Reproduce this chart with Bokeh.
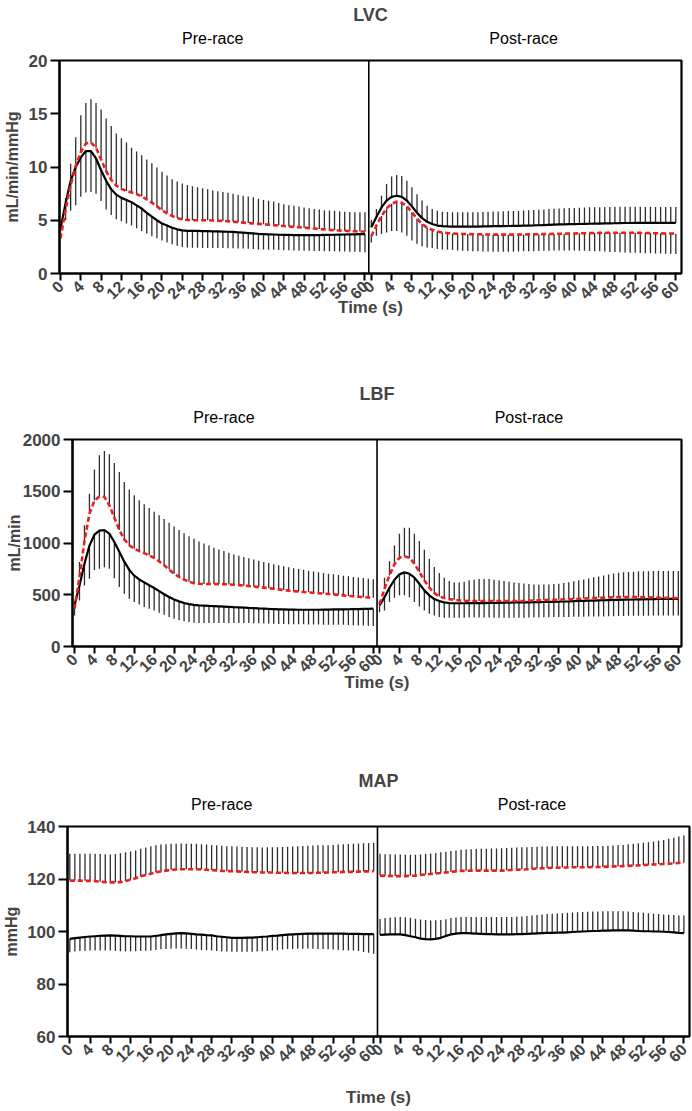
import numpy as np
from math import pi
from bokeh.plotting import figure
from bokeh.models import Range1d, FixedTicker, Span, LinearAxis
from bokeh.embed import file_html
from bokeh.resources import INLINE

# ---------------- data ----------------
time_s = list(range(61))
tick_values = list(range(0, 61, 4))
tick_labels = [str(v) for v in tick_values]
panel_titles = ["LVC", "LBF", "MAP"]
phase_names = ["Pre-race", "Post-race"]
y_labels = ["mL/min/mmHg", "mL/min", "mmHg"]
x_label = "Time (s)"

# LVC pre-race
lvc_pre_black_mean = [4.2, 6.6, 8.7, 10.0, 10.9, 11.5, 11.5, 10.8, 9.7, 8.7, 7.9, 7.4, 7.1, 6.9, 6.7, 6.4, 6.1, 5.7, 5.35, 5.0,
                      4.7, 4.5, 4.3, 4.15, 4.05, 4.0, 4.0, 4.0, 3.98, 3.97, 3.96, 3.95, 3.94, 3.92, 3.9, 3.87, 3.84, 3.8, 3.76, 3.72,
                      3.7, 3.68, 3.66, 3.64, 3.63, 3.62, 3.6, 3.6, 3.6, 3.6, 3.6, 3.61, 3.62, 3.63, 3.64, 3.65, 3.66, 3.67, 3.68, 3.69, 3.7]
lvc_pre_black_sd = [0.9, 1.6, 2.8, 3.6, 3.7, 3.9, 3.85, 3.3, 2.9, 2.7, 2.4, 2.3, 2.2, 2.2, 2.2, 2.15, 2.1, 1.95, 1.85, 1.7,
                    1.6, 1.6, 1.55, 1.55, 1.55, 1.55, 1.58, 1.58, 1.58, 1.57, 1.56, 1.55, 1.55, 1.54, 1.53, 1.52, 1.5, 1.48, 1.47, 1.46,
                    1.45, 1.45, 1.44, 1.44, 1.44, 1.44, 1.44, 1.45, 1.46, 1.47, 1.48, 1.5, 1.52, 1.54, 1.56, 1.58, 1.6, 1.62, 1.64, 1.66, 1.7]
lvc_pre_red_mean = [3.3, 6.0, 8.3, 10.1, 11.4, 12.2, 12.3, 11.8, 10.7, 9.6, 8.8, 8.25, 7.95, 7.75, 7.6, 7.45, 7.25, 6.95, 6.65, 6.3,
                    5.95, 5.65, 5.4, 5.2, 5.08, 5.03, 5.0, 5.0, 5.0, 5.0, 4.98, 4.96, 4.94, 4.9, 4.86, 4.82, 4.78, 4.74, 4.7, 4.66,
                    4.62, 4.58, 4.54, 4.5, 4.46, 4.42, 4.38, 4.34, 4.3, 4.26, 4.22, 4.18, 4.14, 4.1, 4.07, 4.04, 4.01, 3.98, 3.96, 3.94, 3.92]
lvc_pre_red_sd = [0.5, 1.1, 2.0, 2.7, 3.45, 3.8, 4.05, 4.2, 4.7, 4.95, 5.05, 4.9, 4.75, 4.55, 4.2, 4.0, 3.85, 3.75, 3.7, 3.65,
                  3.6, 3.55, 3.45, 3.45, 3.37, 3.29, 3.2, 3.1, 3.0, 2.9, 2.82, 2.76, 2.71, 2.68, 2.64, 2.58, 2.52, 2.48, 2.45, 2.36,
                  2.28, 2.24, 2.21, 2.12, 2.04, 2.0, 1.97, 1.94, 1.9, 1.86, 1.83, 1.82, 1.81, 1.82, 1.83, 1.81, 1.79, 1.8, 1.79, 1.81, 1.83]
# LVC post-race
lvc_post_black_mean = [4.35, 5.3, 6.2, 6.85, 7.2, 7.3, 7.2, 6.85, 6.3, 5.7, 5.2, 4.85, 4.65, 4.5, 4.45, 4.42, 4.4, 4.4, 4.4, 4.4,
                       4.4, 4.41, 4.42, 4.43, 4.44, 4.45, 4.45, 4.46, 4.47, 4.48, 4.49, 4.5, 4.51, 4.53, 4.55, 4.57, 4.59, 4.61, 4.62, 4.63,
                       4.64, 4.65, 4.66, 4.67, 4.68, 4.69, 4.7, 4.71, 4.72, 4.73, 4.74, 4.74, 4.75, 4.75, 4.75, 4.76, 4.76, 4.76, 4.76, 4.76, 4.76]
lvc_post_black_sd = [0.7, 0.75, 1.1, 1.55, 1.9, 1.95, 1.95, 1.85, 1.8, 1.75, 1.65, 1.5, 1.4, 1.4, 1.35, 1.35, 1.35, 1.35, 1.35, 1.35,
                     1.35, 1.35, 1.36, 1.36, 1.37, 1.38, 1.39, 1.4, 1.41, 1.42, 1.43, 1.44, 1.45, 1.46, 1.47, 1.48, 1.49, 1.5, 1.5, 1.51,
                     1.52, 1.53, 1.53, 1.54, 1.54, 1.54, 1.54, 1.54, 1.54, 1.54, 1.53, 1.52, 1.51, 1.51, 1.5, 1.5, 1.49, 1.49, 1.49, 1.49, 1.49]
lvc_post_red_mean = [3.5, 4.5, 5.4, 6.1, 6.55, 6.75, 6.65, 6.3, 5.75, 5.15, 4.65, 4.3, 4.1, 3.95, 3.85, 3.8, 3.76, 3.73, 3.71, 3.7,
                     3.69, 3.68, 3.67, 3.66, 3.65, 3.65, 3.65, 3.65, 3.65, 3.65, 3.66, 3.67, 3.68, 3.69, 3.7, 3.71, 3.72, 3.73, 3.74, 3.75,
                     3.76, 3.77, 3.78, 3.79, 3.8, 3.81, 3.82, 3.82, 3.83, 3.83, 3.83, 3.82, 3.82, 3.81, 3.8, 3.79, 3.78, 3.77, 3.76, 3.75, 3.74]
lvc_post_red_sd = [0.6, 0.95, 1.7, 2.25, 2.55, 2.75, 2.8, 2.75, 2.65, 2.35, 2.1, 1.85, 1.7, 1.65, 1.6, 1.58, 1.56, 1.56, 1.57, 1.58,
                   1.59, 1.6, 1.6, 1.6, 1.6, 1.6, 1.6, 1.6, 1.6, 1.59, 1.58, 1.57, 1.58, 1.58, 1.57, 1.57, 1.57, 1.58, 1.59, 1.6,
                   1.61, 1.63, 1.65, 1.67, 1.7, 1.73, 1.76, 1.79, 1.82, 1.84, 1.85, 1.86, 1.87, 1.88, 1.89, 1.89, 1.9, 1.9, 1.9, 1.9, 1.9]

# LBF pre-race
lbf_pre_black_mean = [397, 590, 800, 975, 1080, 1120, 1125, 1090, 1010, 915, 820, 740, 685, 648, 620, 592, 565, 535, 505, 478,
                      455, 436, 420, 410, 403, 398, 395, 392, 390, 388, 386, 383, 380, 378, 376, 373, 371, 368, 366, 363,
                      361, 359, 358, 357, 356, 355, 355, 355, 355, 355, 356, 357, 358, 358, 359, 360, 361, 362, 363, 364, 365]
lbf_pre_black_sd = [97, 145, 210, 320, 340, 368, 360, 338, 350, 340, 310, 278, 255, 243, 238, 227, 217, 209, 199, 193,
                    187, 183, 177, 174, 173, 171, 169, 166, 164, 162, 160, 157, 154, 152, 150, 147, 146, 144, 143, 141,
                    142, 141, 141, 141, 141, 141, 141, 142, 142, 143, 145, 146, 147, 148, 150, 152, 155, 158, 161, 164, 168]
lbf_pre_red_mean = [365, 670, 1020, 1280, 1410, 1450, 1445, 1365, 1245, 1125, 1035, 978, 945, 922, 902, 880, 855, 823, 785, 743,
                    704, 672, 646, 625, 612, 606, 604, 604, 604, 603, 602, 600, 597, 593, 588, 584, 580, 574, 569, 563,
                    558, 552, 546, 540, 535, 531, 527, 523, 519, 515, 511, 507, 503, 499, 494, 489, 485, 481, 477, 474, 471]
lbf_pre_red_sd = [35, 146, 151, 197, 300, 398, 445, 493, 529, 562, 555, 538, 516, 491, 472, 459, 448, 445, 447, 452,
                  456, 453, 449, 440, 428, 409, 391, 371, 351, 335, 320, 305, 293, 284, 276, 268, 260, 254, 248, 243,
                  237, 233, 229, 226, 222, 218, 214, 210, 206, 203, 200, 197, 194, 191, 190, 189, 187, 185, 184, 181, 179]
# LBF post-race
lbf_post_black_mean = [397, 477, 568, 645, 697, 716, 703, 665, 606, 542, 494, 458, 439, 426, 420, 418, 418, 418, 419, 419,
                       420, 420, 421, 421, 422, 423, 424, 425, 426, 426, 427, 428, 429, 430, 431, 432, 433, 435, 436, 438,
                       440, 441, 443, 444, 446, 447, 449, 450, 451, 452, 453, 454, 455, 456, 457, 458, 459, 460, 460, 461, 461]
lbf_post_black_sd = [65, 129, 139, 174, 203, 222, 226, 236, 219, 194, 178, 158, 155, 149, 143, 141, 140, 140, 140, 140,
                     140, 141, 142, 143, 144, 145, 146, 147, 148, 148, 148, 148, 148, 148, 148, 148, 148, 149, 150, 151,
                     152, 153, 154, 155, 156, 156, 157, 157, 157, 157, 157, 157, 158, 158, 159, 159, 160, 160, 160, 161, 161]
lbf_post_red_mean = [410, 558, 687, 794, 858, 871, 858, 800, 719, 639, 568, 516, 484, 468, 458, 452, 446, 442, 440, 439,
                     439, 439, 439, 439, 439, 439, 439, 439, 439, 440, 442, 444, 446, 448, 450, 451, 452, 454, 456, 458,
                     461, 463, 466, 468, 471, 472, 474, 475, 477, 477, 477, 477, 477, 476, 475, 474, 472, 471, 470, 469, 468]
lbf_post_red_sd = [30, 107, 136, 183, 232, 277, 290, 290, 300, 296, 280, 252, 226, 197, 174, 167, 173, 184, 199, 206,
                   213, 213, 213, 206, 200, 193, 186, 180, 174, 168, 161, 155, 151, 150, 150, 152, 154, 159, 164, 172,
                   178, 185, 192, 200, 206, 214, 222, 230, 236, 240, 243, 246, 249, 251, 253, 255, 257, 258, 259, 260, 261]

# MAP pre-race
map_pre_black_mean = [97.2, 97.5, 97.7, 97.9, 98.1, 98.2, 98.3, 98.4, 98.5, 98.4, 98.3, 98.2, 98.2, 98.1, 98.1, 98.1, 98.1, 98.3, 98.6, 98.9,
                      99.1, 99.3, 99.4, 99.3, 99.1, 98.9, 98.8, 98.6, 98.5, 98.2, 98.0, 97.8, 97.6, 97.6, 97.6, 97.7, 97.7, 97.8, 98.0, 98.1,
                      98.3, 98.4, 98.6, 98.8, 98.9, 99.0, 99.1, 99.2, 99.2, 99.2, 99.2, 99.2, 99.2, 99.2, 99.2, 99.1, 99.1, 99.1, 99.0, 99.0, 99.0]
map_pre_black_sd = [5.1, 5.1, 5.1, 5.2, 5.3, 5.4, 5.5, 5.6, 5.7, 5.8, 5.8, 5.8, 5.8, 5.6, 5.5, 5.4, 5.3, 5.3, 5.4, 5.6,
                    5.7, 5.8, 5.9, 5.9, 5.8, 5.8, 5.8, 5.7, 5.7, 5.6, 5.5, 5.4, 5.3, 5.3, 5.3, 5.4, 5.4, 5.4, 5.5, 5.5,
                    5.5, 5.5, 5.5, 5.5, 5.6, 5.6, 5.7, 5.7, 5.8, 5.9, 5.9, 6.0, 6.1, 6.2, 6.3, 6.3, 6.3, 6.5, 6.8, 7.1, 7.5]
map_pre_red_mean = [119.4, 119.4, 119.4, 119.3, 119.3, 119.2, 119.0, 118.8, 118.7, 118.7, 118.8, 119.2, 119.7, 120.3, 121.0, 121.5, 122.0, 122.5, 122.9, 123.2,
                    123.5, 123.6, 123.7, 123.7, 123.7, 123.7, 123.6, 123.5, 123.4, 123.3, 123.1, 123.0, 123.0, 122.9, 122.8, 122.7, 122.6, 122.6, 122.5, 122.5,
                    122.5, 122.4, 122.4, 122.3, 122.3, 122.3, 122.3, 122.3, 122.3, 122.4, 122.4, 122.5, 122.6, 122.6, 122.7, 122.7, 122.7, 122.8, 122.9, 122.9, 123.0]
map_pre_red_sd = [10.2, 10.2, 10.2, 10.3, 10.3, 10.4, 10.5, 10.6, 10.6, 10.8, 11.0, 11.0, 10.8, 10.6, 10.5, 10.5, 10.5, 10.4, 10.2, 10.0,
                  9.9, 9.8, 9.8, 9.7, 9.7, 9.7, 9.6, 9.6, 9.6, 9.6, 9.6, 9.5, 9.5, 9.5, 9.5, 9.5, 9.5, 9.5, 9.5, 9.6,
                  9.6, 9.7, 9.8, 10.0, 10.1, 10.2, 10.3, 10.4, 10.5, 10.5, 10.5, 10.4, 10.4, 10.5, 10.5, 10.6, 10.7, 10.7, 10.7, 10.8, 10.8]
# MAP post-race
map_post_black_mean = [98.7, 98.8, 98.9, 98.9, 98.9, 98.6, 98.2, 97.8, 97.3, 97.1, 97.0, 97.2, 97.6, 98.3, 98.9, 99.2, 99.4, 99.4, 99.3, 99.2,
                       99.1, 99.0, 99.0, 98.9, 98.9, 98.9, 98.9, 99.0, 99.0, 99.1, 99.2, 99.3, 99.4, 99.5, 99.5, 99.6, 99.6, 99.7, 99.8, 99.9,
                       100.0, 100.1, 100.2, 100.2, 100.3, 100.3, 100.4, 100.4, 100.4, 100.4, 100.3, 100.2, 100.1, 100.1, 100.0, 100.0, 99.9, 99.8, 99.7, 99.5, 99.4]
map_post_black_sd = [6.1, 6.3, 6.4, 6.5, 6.6, 6.8, 7.0, 7.1, 7.3, 7.3, 7.2, 7.1, 6.8, 6.4, 6.2, 6.1, 6.1, 6.1, 6.2, 6.3,
                     6.4, 6.5, 6.5, 6.6, 6.6, 6.6, 6.6, 6.7, 6.7, 6.8, 6.9, 7.0, 7.1, 7.2, 7.3, 7.3, 7.4, 7.4, 7.4, 7.4,
                     7.4, 7.4, 7.4, 7.4, 7.4, 7.4, 7.3, 7.3, 7.3, 7.2, 7.1, 7.0, 7.0, 6.9, 6.8, 6.7, 6.6, 6.6, 6.6, 6.6, 6.7]
map_post_red_mean = [121.3, 121.2, 121.2, 121.1, 121.1, 121.1, 121.2, 121.3, 121.5, 121.7, 121.9, 122.1, 122.3, 122.5, 122.7, 122.9, 123.1, 123.1, 123.2, 123.2,
                     123.2, 123.2, 123.2, 123.2, 123.2, 123.3, 123.4, 123.5, 123.6, 123.7, 123.8, 124.0, 124.1, 124.2, 124.3, 124.3, 124.4, 124.4, 124.5, 124.5,
                     124.5, 124.5, 124.6, 124.6, 124.6, 124.7, 124.8, 124.8, 124.9, 125.0, 125.1, 125.2, 125.3, 125.4, 125.5, 125.6, 125.7, 125.8, 125.9, 126.1, 126.2]
map_post_red_sd = [8.3, 8.2, 8.2, 8.2, 8.2, 8.1, 8.0, 7.9, 7.8, 7.8, 7.8, 7.8, 7.9, 7.9, 8.0, 8.0, 8.0, 8.1, 8.1, 8.2,
                   8.3, 8.3, 8.4, 8.4, 8.5, 8.5, 8.5, 8.5, 8.5, 8.4, 8.4, 8.3, 8.3, 8.2, 8.2, 8.2, 8.1, 8.1, 8.0, 8.0,
                   8.0, 8.0, 8.0, 8.0, 8.0, 8.0, 8.0, 8.1, 8.1, 8.2, 8.3, 8.4, 8.5, 8.6, 8.8, 9.0, 9.2, 9.5, 9.8, 10.1, 10.4]

# ---------------- styling / layout ----------------
FONT = "Liberation Sans"
RED = "#ee1c1c"
BAR = "#2e2e2e"
POST_OFFSET = 61.25
DIVIDER = 60.75
FIG_W = 692

panels = [
    dict(title=panel_titles[0], ylabel=y_labels[0], y=(0, 20), yticks=[0, 5, 10, 15, 20],
         pre=(lvc_pre_black_mean, lvc_pre_black_sd, -1, lvc_pre_red_mean, lvc_pre_red_sd, 1),
         post=(lvc_post_black_mean, lvc_post_black_sd, 1, lvc_post_red_mean, lvc_post_red_sd, -1),
         page_top=0, h=320, frame=(59, 273), left=58, right=681, t0=59, ppx=5.083,
         xlab_standoff=-10, ylab_standoff=5),
    dict(title=panel_titles[1], ylabel=y_labels[1], y=(0, 2000), yticks=[0, 500, 1000, 1500, 2000],
         pre=(lbf_pre_black_mean, lbf_pre_black_sd, -1, lbf_pre_red_mean, lbf_pre_red_sd, 1),
         post=(lbf_post_black_mean, lbf_post_black_sd, -1, lbf_post_red_mean, lbf_post_red_sd, 1),
         page_top=320, h=390, frame=(439, 646), left=72, right=681, t0=74, ppx=4.98,
         xlab_standoff=-8, ylab_standoff=-3),
    dict(title=panel_titles[2], ylabel=y_labels[2], y=(60, 140), yticks=[60, 80, 100, 120, 140],
         pre=(map_pre_black_mean, map_pre_black_sd, -1, map_pre_red_mean, map_pre_red_sd, 1),
         post=(map_post_black_mean, map_post_black_sd, 1, map_post_red_mean, map_post_red_sd, 1),
         page_top=710, h=401, frame=(826, 1036), left=66, right=689, t0=68.3, ppx=5.073,
         xlab_standoff=17, ylab_standoff=4),
]


def make_panel(cfg):
    ftop, fbot = cfg["frame"]
    x0 = -(cfg["t0"] - cfg["left"]) / cfg["ppx"]
    x1 = x0 + (cfg["right"] - cfg["left"]) / cfg["ppx"]
    y0, y1 = cfg["y"]
    p = figure(width=FIG_W, height=cfg["h"], x_range=Range1d(x0, x1), y_range=Range1d(y0, y1),
               output_backend="svg", toolbar_location=None,
               min_border_left=cfg["left"], min_border_right=FIG_W - cfg["right"],
               min_border_top=ftop - cfg["page_top"],
               min_border_bottom=cfg["page_top"] + cfg["h"] - fbot)
    p.grid.visible = False
    p.outline_line_color = "black"
    p.outline_line_width = 2.2
    p.background_fill_color = "white"
    p.border_fill_color = "white"

    # title
    p.title.text = cfg["title"]
    p.title.align = "center"
    p.title.text_font = FONT
    p.title.text_font_size = "18px"
    p.title.text_font_style = "bold"
    p.title.standoff = 4

    # x axis: two segmented time axes
    ticks = [float(v) for v in tick_values] + [v + POST_OFFSET for v in tick_values]
    overrides = {}
    for v, lab in zip(tick_values, tick_labels):
        overrides[float(v)] = lab
        overrides[v + POST_OFFSET] = lab
    xa = p.xaxis[0]
    xa.ticker = FixedTicker(ticks=ticks)
    xa.major_label_overrides = overrides
    xa.major_label_orientation = pi / 4
    xa.minor_tick_line_color = None
    xa.major_tick_out = 7
    xa.major_tick_in = 0
    xa.major_tick_line_width = 2
    xa.axis_line_width = 2
    xa.major_label_text_font = FONT
    xa.major_label_text_font_style = "bold"
    xa.major_label_text_font_size = "16px"
    xa.major_label_standoff = 3
    xa.axis_label = x_label
    xa.axis_label_text_font = FONT
    xa.axis_label_text_font_style = "bold"
    xa.axis_label_text_font_size = "17px"
    xa.axis_label_standoff = cfg["xlab_standoff"]

    ya = p.yaxis[0]
    ya.ticker = FixedTicker(ticks=cfg["yticks"])
    ya.minor_tick_line_color = None
    ya.major_tick_out = 9
    ya.major_tick_in = 0
    ya.major_tick_line_width = 2
    ya.axis_line_width = 2
    ya.major_label_text_font = FONT
    ya.major_label_text_font_style = "bold"
    ya.major_label_text_font_size = "17px"
    ya.major_label_standoff = 3
    ya.axis_label = cfg["ylabel"]
    ya.axis_label_text_font = FONT
    ya.axis_label_text_font_style = "bold"
    ya.axis_label_text_font_size = "16px"
    ya.axis_label_standoff = cfg["ylab_standoff"]

    # phase names (Pre-race / Post-race) on a tick-less top axis
    phase_ticks = [30.0, 30.0 + POST_OFFSET]
    top = LinearAxis(ticker=FixedTicker(ticks=phase_ticks),
                     major_label_overrides={phase_ticks[0]: phase_names[0], phase_ticks[1]: phase_names[1]},
                     axis_line_color=None, major_tick_line_color=None, minor_tick_line_color=None,
                     major_tick_in=0, major_tick_out=0, major_label_standoff=14,
                     major_label_text_font=FONT, major_label_text_font_size="16px",
                     major_label_text_font_style="normal", major_label_text_color="black")
    p.add_layout(top, "above")

    for phase, off in ((cfg["pre"], 0.0), (cfg["post"], POST_OFFSET)):
        bm, bsd, bdir, rm, rsd, rdir = phase
        xs = np.array(time_s, dtype=float) + off
        bm = np.array(bm, dtype=float); rm = np.array(rm, dtype=float)
        bend = bm + bdir * np.array(bsd, dtype=float)
        rend = rm + rdir * np.array(rsd, dtype=float)
        p.segment(x0=xs, y0=rm, x1=xs, y1=rend, line_color=BAR, line_width=1.3)
        p.segment(x0=xs, y0=bm, x1=xs, y1=bend, line_color=BAR, line_width=1.3)
        p.line(xs, bm, line_color="black", line_width=2.2)
        p.line(xs, rm, line_color=RED, line_width=2.6, line_dash="5 3")

    p.add_layout(Span(location=DIVIDER, dimension="height", line_color="black", line_width=1.6))
    return p


figs = [make_panel(c) for c in panels]

# each panel is its own root so that Bokeh does not align their frames
open("out.html", "w").write(file_html(figs, INLINE))
